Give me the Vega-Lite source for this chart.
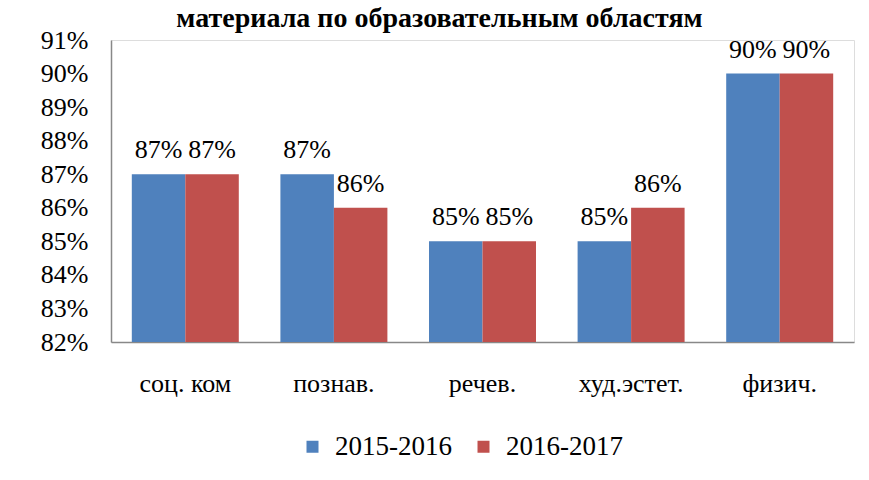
{
  "$schema": "https://vega.github.io/schema/vega-lite/v6.json",
  "width": 743,
  "height": 302,
  "autosize": {"type": "none"},
  "padding": {"left": 111, "top": 40, "right": 15, "bottom": 138},
  "background": "white",
  "title": {
    "text": "материала по образовательным областям",
    "font": "Liberation Serif",
    "fontSize": 28,
    "fontWeight": "bold",
    "color": "black",
    "frame": "group",
    "anchor": "middle",
    "baseline": "alphabetic",
    "offset": 5,
    "dy": 33,
    "dx": -43
  },
  "data": {
    "values": [
      {"cat": "соц. ком", "year": "2015-2016", "v": 0.87},
      {"cat": "соц. ком", "year": "2016-2017", "v": 0.87},
      {"cat": "познав.", "year": "2015-2016", "v": 0.87},
      {"cat": "познав.", "year": "2016-2017", "v": 0.86},
      {"cat": "речев.", "year": "2015-2016", "v": 0.85},
      {"cat": "речев.", "year": "2016-2017", "v": 0.85},
      {"cat": "худ.эстет.", "year": "2015-2016", "v": 0.85},
      {"cat": "худ.эстет.", "year": "2016-2017", "v": 0.86},
      {"cat": "физич.", "year": "2015-2016", "v": 0.90},
      {"cat": "физич.", "year": "2016-2017", "v": 0.90}
    ]
  },
  "encoding": {
    "x": {
      "field": "cat", "type": "nominal", "sort": null,
      "scale": {"paddingInner": 0.28, "paddingOuter": 0.14},
      "axis": {"title": null, "labelAngle": 0, "labelFont": "Liberation Serif", "labelFontSize": 26, "labelColor": "black", "labelPadding": 28, "ticks": false, "domainColor": "#888888", "domainWidth": 1.5}
    },
    "xOffset": {"field": "year", "type": "nominal", "scale": {"paddingInner": 0, "paddingOuter": 0}},
    "y": {
      "field": "v", "type": "quantitative",
      "scale": {"domain": [0.82, 0.91], "zero": false, "nice": false},
      "axis": {"title": null, "format": ".0%", "values": [0.82, 0.83, 0.84, 0.85, 0.86, 0.87, 0.88, 0.89, 0.90, 0.91], "grid": false, "ticks": false, "labelFont": "Liberation Serif", "labelFontSize": 26, "labelColor": "black", "labelPadding": 23, "labelOverlap": false, "domainColor": "#888888", "domainWidth": 1.5}
    }
  },
  "layer": [
    {
      "mark": {"type": "bar", "clip": true},
      "encoding": {
        "color": {
          "field": "year", "type": "nominal",
          "scale": {"domain": ["2015-2016", "2016-2017"], "range": ["#4F81BD", "#C0504D"]},
          "legend": {
            "title": null, "orient": "none", "direction": "horizontal",
            "legendX": 188, "legendY": 393,
            "symbolType": "square", "symbolSize": 144, "symbolStrokeWidth": 0,
            "labelFont": "Liberation Serif", "labelFontSize": 27, "labelColor": "black",
            "columnPadding": 18, "labelOffset": 9
          }
        }
      }
    },
    {
      "mark": {"type": "text", "baseline": "alphabetic", "dy": -16, "font": "Liberation Serif", "fontSize": 26, "color": "black"},
      "encoding": {
        "text": {"field": "v", "type": "quantitative", "format": ".0%"}
      }
    }
  ]
}
